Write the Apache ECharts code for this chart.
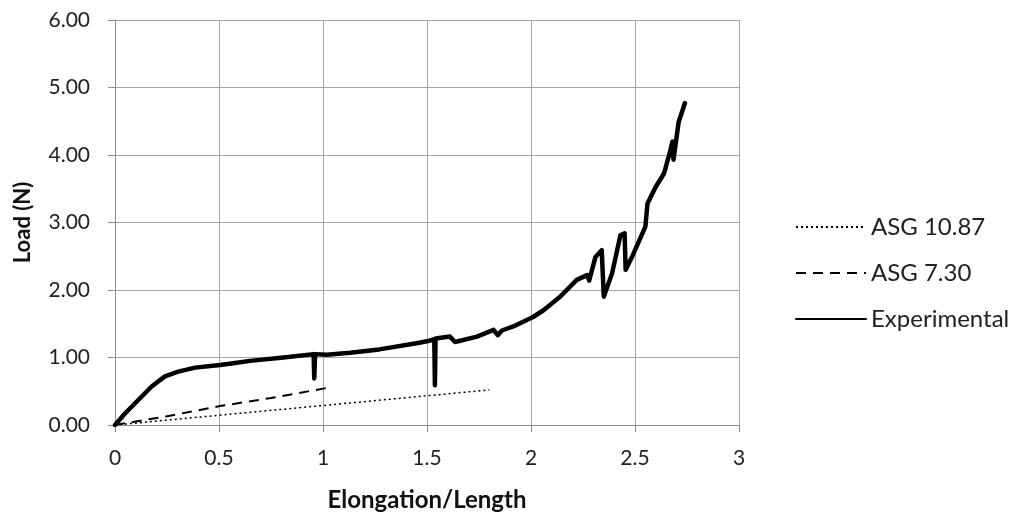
<!DOCTYPE html>
<html>
<head>
<meta charset="utf-8">
<script src="https://cdn.jsdelivr.net/npm/echarts@6/dist/echarts.min.js"></script>
<style>
  html, body { margin: 0; padding: 0; background: #fff; }
  #chart { width: 1012px; height: 512px; }
</style>
</head>
<body>
<div id="chart"></div>
<script>
// ASG 10.87 (dotted)
var asg1087X = [0, 0.45, 0.9, 1.35, 1.80];
var asg1087Y = [0, 0.13, 0.26, 0.39, 0.52];
// ASG 7.30 (dashed)
var asg730X = [0, 0.25, 0.505, 0.75, 1.02];
var asg730Y = [0, 0.13, 0.28, 0.40, 0.55];
// Experimental
var expX = [0, 0.048, 0.112, 0.176, 0.240, 0.304, 0.385, 0.505, 0.577, 0.649, 0.81, 0.955, 0.958, 0.962,
  1.018, 1.13, 1.27, 1.45, 1.50, 1.535, 1.538, 1.541, 1.61, 1.635, 1.74, 1.82, 1.84, 1.86, 1.915, 2.01, 2.06,
  2.14, 2.22, 2.27, 2.28, 2.31, 2.34, 2.35, 2.39, 2.43, 2.45, 2.455, 2.49, 2.55, 2.56, 2.60, 2.64, 2.67, 2.68,
  2.685, 2.71, 2.74];
var expY = [0, 0.17, 0.37, 0.57, 0.72, 0.79, 0.85, 0.89, 0.92, 0.95, 1.00, 1.05, 0.69, 1.05,
  1.04, 1.07, 1.12, 1.21, 1.24, 1.27, 0.59, 1.28, 1.31, 1.23, 1.31, 1.41, 1.33, 1.40, 1.46, 1.60, 1.70,
  1.90, 2.15, 2.22, 2.14, 2.49, 2.59, 1.90, 2.25, 2.81, 2.84, 2.30, 2.52, 2.94, 3.28, 3.53, 3.73, 4.07, 4.20,
  3.93, 4.49, 4.77];

var seriesNames = ['ASG 10.87', 'ASG 7.30', 'Experimental'];

function pairs(xs, ys){
  var out = [];
  for (var i = 0; i < xs.length; i++) out.push([xs[i], ys[i]]);
  return out;
}

var fontFam = 'Lato, "Open Sans", sans-serif';
var chart = echarts.init(document.getElementById('chart'), null, {renderer: 'canvas'});
var option = {
  backgroundColor: '#fff',
  animation: false,
  textStyle: { fontFamily: fontFam },
  grid: { left: 115, top: 20, width: 624, height: 405, containLabel: false, outerBoundsMode: 'none' },
  legend: {
    orient: 'vertical',
    left: 790,
    top: 210,
    itemWidth: 70,
    itemHeight: 14,
    itemGap: 22,
    itemStyle: { opacity: 0 },
    textStyle: { fontSize: 24, lineHeight: 24, color: '#222', fontFamily: fontFam },
    data: seriesNames
  },
  xAxis: {
    type: 'value',
    min: 0, max: 3, interval: 0.5,
    name: 'Elongation/Length',
    nameLocation: 'middle',
    nameGap: 63,
    nameTextStyle: { fontSize: 24, fontWeight: 'bold', color: '#111', fontFamily: fontFam },
    axisLine: { show: true, lineStyle: { color: '#8c8c8c', width: 1 } },
    axisTick: { show: true, length: 7, lineStyle: { color: '#8c8c8c' } },
    axisLabel: { fontSize: 21, color: '#222', margin: 23 },
    splitLine: { show: true, lineStyle: { color: '#a6a6a6', width: 1 } }
  },
  yAxis: {
    type: 'value',
    min: 0, max: 6, interval: 1,
    name: 'Load (N)',
    nameLocation: 'middle',
    nameGap: 81,
    nameRotate: 90,
    nameTextStyle: { fontSize: 22, fontWeight: 'bold', color: '#111', fontFamily: fontFam },
    axisLine: { show: true, lineStyle: { color: '#8c8c8c', width: 1 } },
    axisTick: { show: true, length: 7, lineStyle: { color: '#8c8c8c' } },
    axisLabel: { fontSize: 21, color: '#222', margin: 25, formatter: function(v){ return v.toFixed(2); } },
    splitLine: { show: true, lineStyle: { color: '#a6a6a6', width: 1 } }
  },
  series: [
    {
      name: seriesNames[0], type: 'line', symbol: 'none', smooth: false,
      lineStyle: { color: '#000', width: 1.5, type: [2, 3] },
      itemStyle: { color: '#000' },
      data: pairs(asg1087X, asg1087Y)
    },
    {
      name: seriesNames[1], type: 'line', symbol: 'none', smooth: false,
      lineStyle: { color: '#000', width: 2, type: [10, 7] },
      itemStyle: { color: '#000' },
      data: pairs(asg730X, asg730Y)
    },
    {
      name: seriesNames[2], type: 'line', symbol: 'none', smooth: false,
      lineStyle: { color: '#000', width: 4.5, join: 'round', cap: 'round' },
      itemStyle: { color: '#000' },
      data: pairs(expX, expY)
    }
  ]
};
chart.setOption(option);
</script>
</body>
</html>
